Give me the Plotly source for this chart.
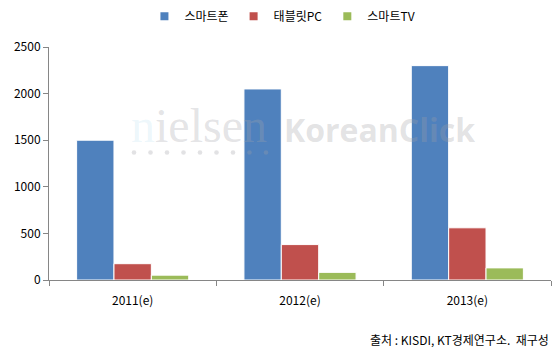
import plotly.graph_objects as go

categories = ["2011(e)", "2012(e)", "2013(e)"]
smartphone = [1500, 2050, 2300]
tablet = [175, 380, 560]
smarttv = [52, 82, 130]
series_names = ["스마트폰", "태블릿PC", "스마트TV"]
colors = ["#4F81BD", "#C0504D", "#9BBB59"]

FONT = "Noto Sans CJK KR"
fig = go.Figure()
for name, vals, c in zip(series_names, [smartphone, tablet, smarttv], colors):
    fig.add_trace(go.Bar(x=categories, y=vals, name=name, showlegend=False,
                         marker=dict(color=c, line=dict(color="white", width=1))))
for name, c in zip(series_names, colors):
    fig.add_trace(go.Scatter(x=[None], y=[None], mode="markers", name=name,
                             marker=dict(symbol="square", size=8, color=c)))

fig.update_layout(
    width=557, height=358,
    margin=dict(l=49, r=6, t=47, b=78),
    paper_bgcolor="white", plot_bgcolor="white",
    barmode="group", bargap=0.33, bargroupgap=0,
    font=dict(family=FONT, size=12, color="#000000"),
    legend=dict(orientation="h", x=0.465, xanchor="center", y=0.995, yanchor="top",
                yref="container", font=dict(size=12), itemwidth=30,
                traceorder="normal", tracegroupgap=0),
    showlegend=True,
)
fig.update_xaxes(showline=True, linecolor="#868686", linewidth=1,
                 ticks="outside", tickson="boundaries", ticklen=5, tickcolor="#868686",
                 tickfont=dict(size=12), showgrid=False, ticklabelstandoff=10)
fig.update_yaxes(range=[0, 2500], dtick=500, showline=True, linecolor="#868686",
                 linewidth=1, ticks="outside", ticklen=5, tickcolor="#868686",
                 showgrid=False, zeroline=False, tickfont=dict(size=12))

# watermark
fig.add_annotation(
    text="<span style='color:rgba(120,195,228,0.45)'>n</span>ielsen",
    xref="paper", yref="paper", x=0.16, y=0.665,
    xanchor="left", yanchor="middle", showarrow=False,
    font=dict(family="Liberation Serif", size=48, color="rgba(165,165,170,0.3)"))
for i in range(9):
    cx = 134 + 16.5 * i
    fig.add_shape(type="circle", xref="paper", yref="paper", layer="above",
                  x0=(cx - 2.3 - 49) / 502, x1=(cx + 2.3 - 49) / 502,
                  y0=(280 - 152.5 - 2.3) / 233, y1=(280 - 152.5 + 2.3) / 233,
                  fillcolor="rgba(160,160,165,0.3)", line=dict(width=0))
fig.add_annotation(text="<b>KoreanClick</b>", xref="paper", yref="paper", x=0.464, y=0.645,
                   xanchor="left", yanchor="middle", showarrow=False,
                   font=dict(family="Open Sans", size=32, color="rgba(160,160,165,0.3)"))
fig.add_annotation(text="출처 : KISDI, KT경제연구소.  재구성", xref="paper", yref="paper",
                   x=1.0, y=-0.255, xanchor="right", yanchor="middle", showarrow=False,
                   font=dict(size=12))

fig.write_html("out.html")
